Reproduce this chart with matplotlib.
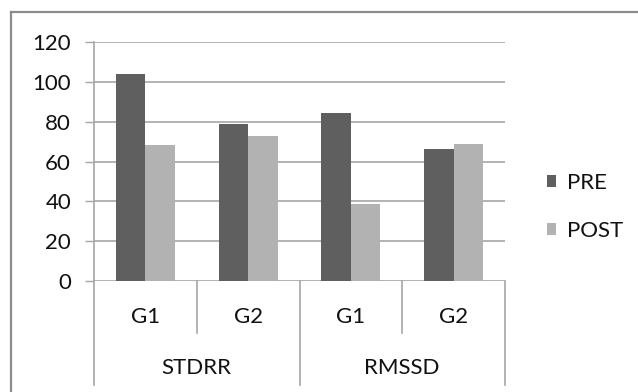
import matplotlib
matplotlib.use("Agg")
import matplotlib.pyplot as plt
from matplotlib.lines import Line2D
from matplotlib.patches import Patch
from matplotlib.transforms import blended_transform_factory
import numpy as np

# Data
groups = ["STDRR", "RMSSD"]
subgroups = ["G1", "G2", "G1", "G2"]
pre = [104, 79, 84.5, 66.5]
post = [68.5, 73, 38.7, 69]
series_names = ["PRE", "POST"]
yticks = [0, 20, 40, 60, 80, 100, 120]

pre_color = "#5f5f5f"
post_color = "#b2b2b2"
grid_color = "#a6a6a6"
text_color = "#111111"
fs = 16

plt.rcParams["font.family"] = ["Lato", "DejaVu Sans"]

W, H = 638, 392
fig = plt.figure(figsize=(W / 100, H / 100), dpi=100)
left, right, top, bottom = 94, 505, 42, 281
ax = fig.add_axes([left / W, 1 - bottom / H, (right - left) / W, (bottom - top) / H])

x = np.arange(len(subgroups)) + 0.5
bw = 0.287
ax.bar(x - bw / 2, pre, width=bw, color=pre_color, label=series_names[0], zorder=3)
ax.bar(x + bw / 2, post, width=bw, color=post_color, label=series_names[1], zorder=3)

ax.set_xlim(0, len(subgroups))
ax.set_ylim(0, 120)
ax.set_yticks(yticks)
ax.set_yticklabels([str(v) for v in yticks], fontsize=fs, color=text_color)
ax.yaxis.grid(True, color=grid_color, linewidth=1.2, zorder=0)
ax.tick_params(axis="y", length=6.5, width=1, color=grid_color, pad=10)
ax.set_xticks([])
for s in ["top", "right", "bottom"]:
    ax.spines[s].set_visible(False)
ax.spines["left"].set_color(grid_color)
ax.spines["left"].set_linewidth(1.2)

# Two-level category axis
trans = blended_transform_factory(ax.transData, fig.transFigure)
y0 = 1 - bottom / H
y_inner = 1 - 333 / H
y_outer = 1 - 385 / H
for i in range(len(subgroups) + 1):
    yend = y_outer if i % 2 == 0 else y_inner
    ax.add_line(Line2D([i, i], [y0, yend], transform=trans, color=grid_color,
                       linewidth=1.2, clip_on=False))
for xi, lab in zip(x, subgroups):
    ax.text(xi, 1 - 317 / H, lab, transform=trans, ha="center", va="center",
            fontsize=fs, color=text_color)
for gi, g in enumerate(groups):
    ax.text(2 * gi + 1, 1 - 368 / H, g, transform=trans, ha="center", va="center",
            fontsize=fs, color=text_color)

# Legend
handles = [Patch(facecolor=pre_color), Patch(facecolor=post_color)]
fig.legend(handles, series_names, loc="upper left", bbox_to_anchor=(547 / W, 1 - 173 / H),
           frameon=False, fontsize=fs, handlelength=0.42, handleheight=0.42,
           handletextpad=0.5, labelspacing=1.25, borderaxespad=0, borderpad=0,
           labelcolor=text_color)

# Outer frame (left and top edges)
border = "#8c8c8c"
fig.add_artist(Line2D([11 / W, 11 / W], [0, 1 - 12 / H], transform=fig.transFigure,
                      color=border, linewidth=1.6))
fig.add_artist(Line2D([11 / W, 1], [1 - 12 / H, 1 - 12 / H], transform=fig.transFigure,
                      color=border, linewidth=1.6))

fig.savefig("out.png", dpi=100)
